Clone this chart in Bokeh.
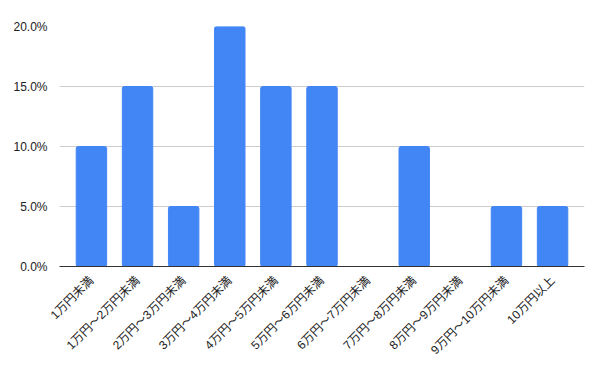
import math
from bokeh.plotting import figure
from bokeh.models import ColumnDataSource, NumeralTickFormatter, FactorRange, Range1d
from bokeh.embed import file_html
from bokeh.resources import INLINE

categories = ["1万円未満", "1万円～2万円未満", "2万円～3万円未満", "3万円～4万円未満",
              "4万円～5万円未満", "5万円～6万円未満", "6万円～7万円未満", "7万円～8万円未満",
              "8万円～9万円未満", "9万円～10万円未満", "10万円以上"]
values = [0.10, 0.15, 0.05, 0.20, 0.15, 0.15, 0.0, 0.10, 0.0, 0.05, 0.05]
y_ticks = [0.0, 0.05, 0.10, 0.15, 0.20]

source = ColumnDataSource(data=dict(cat=categories, val=values))

p = figure(width=600, height=371, output_backend="svg", toolbar_location=None,
           x_range=FactorRange(*categories, range_padding=0.035),
           y_range=Range1d(0, 0.2),
           min_border_left=59, min_border_right=16, min_border_top=26, min_border_bottom=105)
p.outline_line_color = None
p.vbar(x="cat", top="val", width=0.66, source=source, color="#4285F4", border_radius=2)

p.xgrid.grid_line_color = None
p.ygrid.grid_line_color = "#cccccc"
p.ygrid.ticker = y_ticks
p.yaxis.ticker = y_ticks
p.yaxis.formatter = NumeralTickFormatter(format="0.0%")
p.yaxis.axis_line_color = None
p.yaxis.major_tick_line_color = None
p.yaxis.minor_tick_line_color = None
p.yaxis.major_label_text_font = "'Liberation Sans', Arial, sans-serif"
p.yaxis.major_label_text_font_size = "12px"
p.yaxis.major_label_text_color = "#222222"
p.yaxis.major_label_standoff = 6

p.xaxis.axis_line_color = "#333333"
p.xaxis.major_tick_line_color = None
p.xaxis.minor_tick_line_color = None
p.xaxis.major_label_orientation = math.pi / 4
p.xaxis.major_label_text_font = "'Liberation Sans', 'Noto Sans CJK JP', sans-serif"
p.xaxis.major_label_text_font_size = "12px"
p.xaxis.major_label_text_color = "#222222"
p.xaxis.major_label_standoff = 6

open("out.html", "w").write(file_html(p, INLINE))
